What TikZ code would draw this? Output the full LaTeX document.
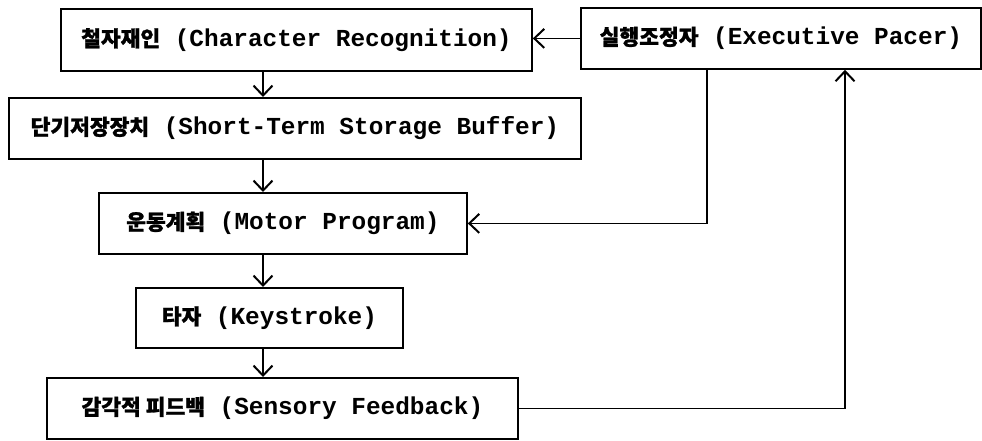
\documentclass[tikz,border=0pt]{standalone}
\usepackage{fontspec}
\setmainfont{Liberation Mono}
\newfontfamily\kr{Noto Sans CJK KR}[Scale=0.88,FakeBold=1.2]
\usetikzlibrary{arrows.meta}
\tikzset{
  box/.style={draw, line width=1.8pt, anchor=north west, inner sep=0pt, align=center,
    font=\fontsize{24.4}{28}\selectfont\bfseries},
  arr/.style={line width=1.4pt, -{Straight Barb[length=10pt,width=19pt,line width=2pt]}},
}
\begin{document}
\begin{tikzpicture}[x=1pt,y=-1pt]
\useasboundingbox (0,0) rectangle (982,440);
\node[box, minimum width=471pt, minimum height=62pt] (cr) at (60,8) {{\kr 철자재인} (Character Recognition)};
\node[box, minimum width=400pt, minimum height=61pt] (ex) at (580,7) {{\kr 실행조정자} (Executive Pacer)};
\node[box, minimum width=572pt, minimum height=61pt] (sb) at (8,97) {{\kr 단기저장장치} (Short-Term Storage Buffer)};
\node[box, minimum width=368pt, minimum height=61pt] (mp) at (98,192) {{\kr 운동계획} (Motor Program)};
\node[box, minimum width=267pt, minimum height=60pt] (ks) at (135,287) {{\kr 타자} (Keystroke)};
\node[box, minimum width=471pt, minimum height=61pt] (sf) at (46,377) {{\kr 감각적 피드백} (Sensory Feedback)};
\coordinate (cx) at (263,0);
\coordinate (dx) at (707,0);
\coordinate (fx) at (845,0);
\draw[arr] (cr.south -| cx) -- (sb.north -| cx);
\draw[arr] (sb.south -| cx) -- (mp.north -| cx);
\draw[arr] (mp.south -| cx) -- (ks.north -| cx);
\draw[arr] (ks.south -| cx) -- (sf.north -| cx);
\draw[arr] (ex.west) -- (ex.west -| cr.east);
\draw[arr] (ex.south -| dx) |- (mp.east);
\draw[arr] (sf.east) -| (ex.south -| fx);
\end{tikzpicture}
\end{document}
